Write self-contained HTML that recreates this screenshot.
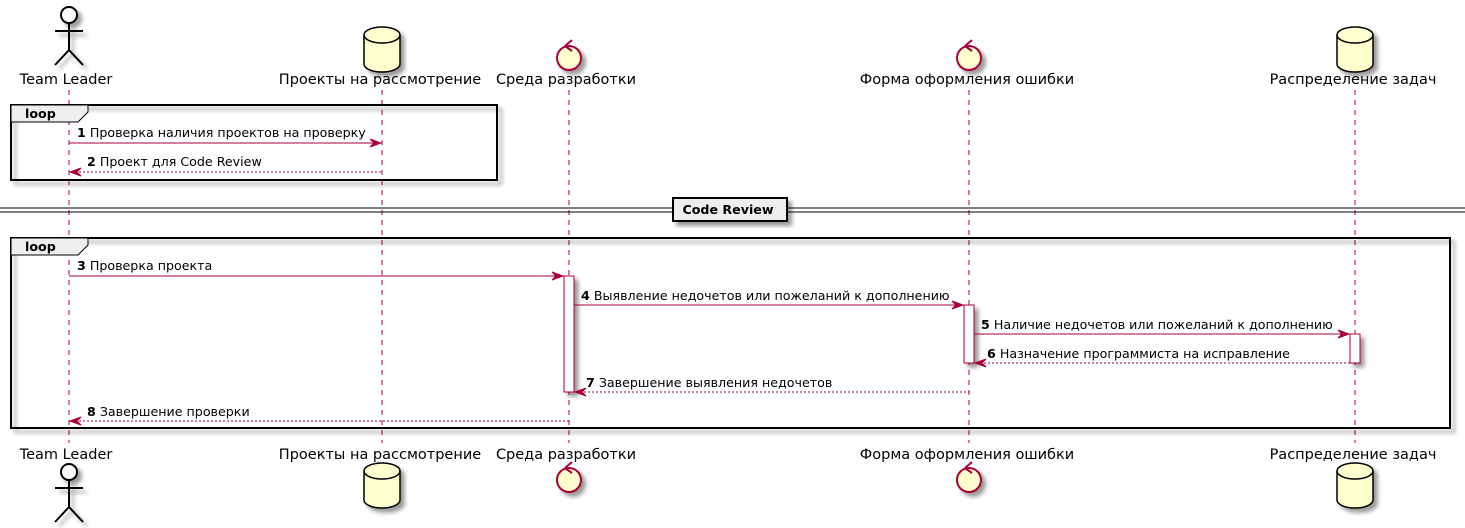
<!DOCTYPE html>
<html><head><meta charset="utf-8"><style>
body{margin:0;background:#fff;}
svg{display:block;font-family:"DejaVu Sans","Liberation Sans",sans-serif;}
.m{font-size:12.65px;fill:#000;}
.p{font-size:14.5px;fill:#000;}
.ll{stroke:#A80036;stroke-width:1;stroke-dasharray:5,5;}
.ar{stroke:#A80036;stroke-width:1;fill:none;}
.da{stroke:#A80036;stroke-width:1;fill:none;stroke-dasharray:2,2;}
.ah{fill:#A80036;stroke:#A80036;}
</style></head><body>
<svg width="1465" height="528" viewBox="0 0 1465 528" xmlns="http://www.w3.org/2000/svg">
<defs>
<filter id="sh" x="-20%" y="-20%" width="150%" height="150%"><feGaussianBlur in="SourceAlpha" stdDeviation="2"/><feOffset dx="4" dy="4"/><feComponentTransfer><feFuncA type="linear" slope="0.4"/></feComponentTransfer><feMerge><feMergeNode/><feMergeNode in="SourceGraphic"/></feMerge></filter>
</defs>
<line class="ll" x1="69" y1="90" x2="69" y2="443"/>
<line class="ll" x1="382" y1="90" x2="382" y2="443"/>
<line class="ll" x1="569" y1="90" x2="569" y2="443"/>
<line class="ll" x1="969" y1="90" x2="969" y2="443"/>
<line class="ll" x1="1355" y1="90" x2="1355" y2="443"/>

<g filter="url(#sh)" stroke="#000" stroke-width="2" fill="none">
<circle cx="69" cy="15" r="8" fill="#fff"/>
<line x1="69" y1="23" x2="69" y2="50"/><line x1="55" y1="31" x2="83" y2="31"/>
<line x1="69" y1="50" x2="55" y2="65"/><line x1="69" y1="50" x2="83" y2="65"/>
</g>
<g filter="url(#sh)" stroke="#000" stroke-width="1.5">
<path d="M364,35 L364,64 A18,8 0 0 0 400,64 L400,35 A18,8 0 0 0 364,35 Z" fill="#FEFECE"/>
<path d="M364,35 A18,8 0 0 0 400,35" fill="none"/>
<path d="M1337,35 L1337,64 A18,8 0 0 0 1373,64 L1373,35 A18,8 0 0 0 1337,35 Z" fill="#FEFECE"/>
<path d="M1337,35 A18,8 0 0 0 1373,35" fill="none"/>
</g>
<g filter="url(#sh)" stroke="#A80036" stroke-width="2" fill="#FEFECE">
<circle cx="569" cy="58" r="12"/><circle cx="969" cy="58" r="12"/>
</g>
<path d="M565,46 L572,40 M565,46 L572,51" stroke="#A80036" stroke-width="2" fill="none"/>
<path d="M965,46 L972,40 M965,46 L972,51" stroke="#A80036" stroke-width="2" fill="none"/>
<text class="p" x="66" y="84" text-anchor="middle">Team Leader</text>
<text class="p" x="380" y="84" text-anchor="middle">Проекты на рассмотрение</text>
<text class="p" x="566" y="84" text-anchor="middle">Среда разработки</text>
<text class="p" x="967" y="84" text-anchor="middle">Форма оформления ошибки</text>
<text class="p" x="1353" y="84" text-anchor="middle">Распределение задач</text>

<text class="p" x="66" y="459" text-anchor="middle">Team Leader</text>
<text class="p" x="380" y="459" text-anchor="middle">Проекты на рассмотрение</text>
<text class="p" x="566" y="459" text-anchor="middle">Среда разработки</text>
<text class="p" x="967" y="459" text-anchor="middle">Форма оформления ошибки</text>
<text class="p" x="1353" y="459" text-anchor="middle">Распределение задач</text>
<g filter="url(#sh)" stroke="#000" stroke-width="2" fill="none">
<circle cx="69" cy="472" r="8" fill="#fff"/>
<line x1="69" y1="480" x2="69" y2="507"/><line x1="55" y1="488" x2="83" y2="488"/>
<line x1="69" y1="507" x2="55" y2="522"/><line x1="69" y1="507" x2="83" y2="522"/>
</g>
<g filter="url(#sh)" stroke="#000" stroke-width="1.5">
<path d="M364,471 L364,500 A18,8 0 0 0 400,500 L400,471 A18,8 0 0 0 364,471 Z" fill="#FEFECE"/>
<path d="M364,471 A18,8 0 0 0 400,471" fill="none"/>
<path d="M1337,471 L1337,500 A18,8 0 0 0 1373,500 L1373,471 A18,8 0 0 0 1337,471 Z" fill="#FEFECE"/>
<path d="M1337,471 A18,8 0 0 0 1373,471" fill="none"/>
</g>
<g filter="url(#sh)" stroke="#A80036" stroke-width="2" fill="#FEFECE">
<circle cx="569" cy="480" r="12"/><circle cx="969" cy="480" r="12"/>
</g>
<path d="M565,468 L572,462 M565,468 L572,473" stroke="#A80036" stroke-width="2" fill="none"/>
<path d="M965,468 L972,462 M965,468 L972,473" stroke="#A80036" stroke-width="2" fill="none"/>

<g filter="url(#sh)"><rect x="11" y="105" width="486" height="75" fill="none" stroke="#000" stroke-width="2"/></g>
<path d="M11,105 L88,105 L88,112 L78,122 L11,122 Z" fill="#EEEEEE" stroke="#000" stroke-width="1"/>
<text class="m" x="25" y="118" font-weight="bold">loop</text>
<line class="ar" x1="69" y1="143" x2="380" y2="143"/>
<path class="ah" d="M370,139 L381,143 L370,147 L374,143 Z"/>
<text class="m" x="77" y="137"><tspan font-weight="bold">1</tspan> Проверка наличия проектов на проверку</text>
<line class="da" x1="71" y1="172" x2="382" y2="172"/>
<path class="ah" d="M81,168 L70,172 L81,176 L77,172 Z"/>
<text class="m" x="87" y="166"><tspan font-weight="bold">2</tspan> Проект для Code Review</text>

<line x1="0" y1="208" x2="1465" y2="208" stroke="#000" stroke-width="1"/>
<line x1="0" y1="212" x2="1465" y2="212" stroke="#000" stroke-width="1"/>
<g filter="url(#sh)"><rect x="673" y="198" width="114" height="23" fill="#EEEEEE" stroke="#000" stroke-width="2"/></g>
<text class="m" x="728" y="214" text-anchor="middle" font-weight="bold">Code Review</text>

<g filter="url(#sh)"><rect x="11" y="238" width="1439" height="190" fill="none" stroke="#000" stroke-width="2"/></g>
<path d="M11,238 L88,238 L88,245 L78,255 L11,255 Z" fill="#EEEEEE" stroke="#000" stroke-width="1"/>
<text class="m" x="25" y="251" font-weight="bold">loop</text>

<g filter="url(#sh)" stroke="#A80036" stroke-width="1" fill="#fff">
<rect x="564" y="276" width="10" height="116"/>
<rect x="964" y="305" width="10" height="58"/>
<rect x="1350" y="334" width="10" height="29"/>
</g>

<line class="ar" x1="69" y1="276" x2="562" y2="276"/>
<path class="ah" d="M552,272 L563,276 L552,280 L556,276 Z"/>
<text class="m" x="77" y="270"><tspan font-weight="bold">3</tspan> Проверка проекта</text>

<line class="ar" x1="574" y1="305" x2="962" y2="305"/>
<path class="ah" d="M952,301 L963,305 L952,309 L956,305 Z"/>
<text class="m" x="581" y="300"><tspan font-weight="bold">4</tspan> Выявление недочетов или пожеланий к дополнению</text>

<line class="ar" x1="974" y1="334" x2="1348" y2="334"/>
<path class="ah" d="M1338,330 L1349,334 L1338,338 L1342,334 Z"/>
<text class="m" x="981" y="329"><tspan font-weight="bold">5</tspan> Наличие недочетов или пожеланий к дополнению</text>

<line class="da" x1="976" y1="363" x2="1350" y2="363"/>
<path class="ah" d="M986,359 L975,363 L986,367 L982,363 Z"/>
<text class="m" x="987" y="358"><tspan font-weight="bold">6</tspan> Назначение программиста на исправление</text>

<line class="da" x1="576" y1="392" x2="969" y2="392"/>
<path class="ah" d="M586,388 L575,392 L586,396 L582,392 Z"/>
<text class="m" x="586" y="387"><tspan font-weight="bold">7</tspan> Завершение выявления недочетов</text>

<line class="da" x1="71" y1="421" x2="569" y2="421"/>
<path class="ah" d="M81,417 L70,421 L81,425 L77,421 Z"/>
<text class="m" x="87" y="416"><tspan font-weight="bold">8</tspan> Завершение проверки</text>
</svg>
</body></html>
